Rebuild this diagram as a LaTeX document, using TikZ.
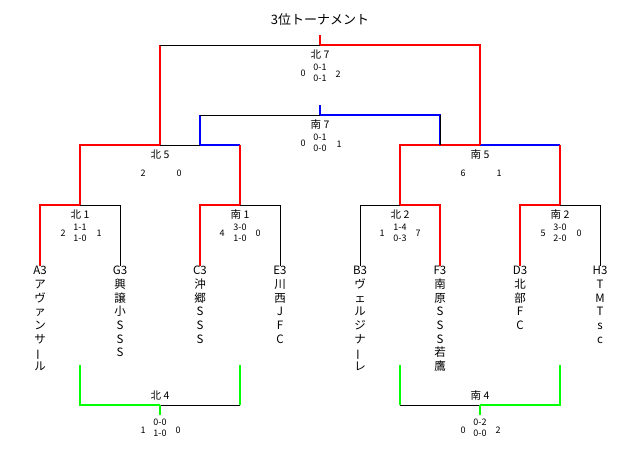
\documentclass[tikz,border=0pt]{standalone}
\usepackage{fontspec}
\setmainfont{Noto Sans CJK JP}
\usetikzlibrary{positioning}
\newcommand{\tatebar}{\rotatebox[origin=c]{90}{ー}}

\begin{document}
\begin{tikzpicture}[x=1pt,y=-1pt,
    win/.style={red,line width=1.5pt},
    lose/.style={black,line width=0.8pt},
    sub/.style={blue,line width=1.5pt},
    third/.style={green,line width=1.5pt},
    matchname/.style={inner sep=0pt,font=\fontsize{10.5}{12}\selectfont},
    goals/.style={inner sep=0pt,align=center,font=\fontsize{9}{11}\selectfont},
    team/.style={anchor=north,inner sep=0pt,align=center,font=\fontsize{11.5}{13.7}\selectfont}]
    \useasboundingbox[fill=white] (0,0) rectangle (640,450);

    % title
    \node[inner sep=0pt,font=\fontsize{13}{15}\selectfont] (title) at (320,20) {3位トーナメント};

    % teams
    \node[team] (A3) at (40,266) {A3\\ア\\ヴ\\ァ\\ン\\サ\\\tatebar\\ル};
    \node[team] (G3) at (120,266) {G3\\興\\譲\\小\\S\\S\\S};
    \node[team] (C3) at (200,266) {C3\\沖\\郷\\S\\S\\S};
    \node[team] (E3) at (280,266) {E3\\川\\西\\J\\F\\C};
    \node[team] (B3) at (360,266) {B3\\ヴ\\ェ\\ル\\ジ\\ナ\\\tatebar\\レ};
    \node[team] (F3) at (440,266) {F3\\南\\原\\S\\S\\S\\若\\鷹};
    \node[team] (D3) at (520,266) {D3\\北\\部\\F\\C};
    \node[team] (H3) at (600,266) {H3\\T\\M\\T\\s\\c};

    % bracket points
    \coordinate (kita1) at (80,205);
    \coordinate (minami1) at (240,205);
    \coordinate (kita2) at (400,205);
    \coordinate (minami2) at (560,205);
    \coordinate (kita5) at (160,145);
    \coordinate (kita5b) at (200,145);
    \coordinate (minami5) at (480,145);
    \coordinate (minami5r) at (560,145);
    \coordinate (kita7) at (320,45);
    \coordinate (kita7l) at (160,45);
    \coordinate (champ) at (320,35);
    \coordinate (minami7) at (320,115);
    \coordinate (minami7l) at (200,115);
    \coordinate (minami7r) at (440,145);
    \coordinate (minami7top) at (320,105);
    \coordinate (kita4) at (160,405);
    \coordinate (kita4l) at (80,365);
    \coordinate (kita4r) at (240,365);
    \coordinate (kita4c) at (240,405);
    \coordinate (kita4w) at (160,415);
    \coordinate (minami4) at (480,405);
    \coordinate (minami4l) at (400,365);
    \coordinate (minami4r) at (560,365);
    \coordinate (minami4c) at (400,405);
    \coordinate (minami4w) at (480,415);

    % first round
    \draw[win] (A3.north) |- (kita1);
    \draw[lose] (kita1) -| (G3.north);
    \draw[win] (C3.north) |- (minami1);
    \draw[lose] (minami1) -| (E3.north);
    \draw[lose] (B3.north) |- (kita2);
    \draw[win] (kita2) -| (F3.north);
    \draw[win] (D3.north) |- (minami2);
    \draw[lose] (minami2) -| (H3.north);

    % semi finals
    \draw[win] (kita1) |- (kita5);
    \draw[lose] (kita5) -- (kita5b);
    \draw[sub] (kita5b) -- (minami1 |- kita5);
    \draw[win] (minami1 |- kita5) -- (minami1);
    \draw[win] (kita2) |- (minami5);
    \draw[sub] (minami5) -- (minami5r);
    \draw[win] (minami5r) -- (minami2);

    % finals
    \draw[sub] (kita5b) -- (minami7l);
    \draw[lose] (minami7l) -- (minami7);
    \draw[sub] (minami7) -| (minami7r);
    \draw[lose] (minami7r |- minami7) -- (minami7r);
    \draw[sub] (minami7) -- (minami7top);
    \draw[win] (kita5) -- (kita7l);
    \draw[lose] (kita7l) -- (kita7);
    \draw[win] (kita7) -| (minami5);
    \draw[win] (kita7) -- (champ);

    % consolation
    \draw[third] (kita4l) |- (kita4);
    \draw[lose] (kita4) -- (kita4c);
    \draw[third] (kita4c) -- (kita4r);
    \draw[third] (kita4) -- (kita4w);
    \draw[third] (minami4l) -- (minami4c);
    \draw[lose] (minami4c) -- (minami4);
    \draw[third] (minami4) -| (minami4r);
    \draw[third] (minami4) -- (minami4w);

    % match names and scores
    \node[matchname] (k7n) at (320,55) {北 7};
    \node[goals] (k7s) at (320,72.5) {0-1\\0-1};
    \node[goals] (k7a) at (303,73) {0};
    \node[goals] (k7b) at (338,74) {2};

    \node[matchname] (m7n) at (320,125) {南 7};
    \node[goals] (m7s) at (320,142.5) {0-1\\0-0};
    \node[goals] (m7a) at (303,143) {0};
    \node[goals] (m7b) at (339,144) {1};

    \node[matchname] (k5n) at (160,155) {北 5};
    \node[goals] (k5a) at (143,173) {2};
    \node[goals] (k5b) at (179,173) {0};

    \node[matchname] (m5n) at (480,155) {南 5};
    \node[goals] (m5a) at (463,173) {6};
    \node[goals] (m5b) at (499,173) {1};

    \node[matchname] (k1n) at (80,215) {北 1};
    \node[goals] (k1s) at (80,233) {1-1\\1-0};
    \node[goals] (k1a) at (63,233) {2};
    \node[goals] (k1b) at (99,233) {1};

    \node[matchname] (m1n) at (240,215) {南 1};
    \node[goals] (m1s) at (240,233) {3-0\\1-0};
    \node[goals] (m1a) at (222,233) {4};
    \node[goals] (m1b) at (258,233) {0};

    \node[matchname] (k2n) at (400,215) {北 2};
    \node[goals] (k2s) at (400,233) {1-4\\0-3};
    \node[goals] (k2a) at (382,233) {1};
    \node[goals] (k2b) at (418,233) {7};

    \node[matchname] (m2n) at (560,215) {南 2};
    \node[goals] (m2s) at (560,233) {3-0\\2-0};
    \node[goals] (m2a) at (543,233) {5};
    \node[goals] (m2b) at (579,233) {0};

    \node[matchname] (k4n) at (160,396) {北 4};
    \node[goals] (k4s) at (160,427.5) {0-0\\1-0};
    \node[goals] (k4a) at (143,430) {1};
    \node[goals] (k4b) at (178,430) {0};

    \node[matchname] (m4n) at (480,396) {南 4};
    \node[goals] (m4s) at (480,427.5) {0-2\\0-0};
    \node[goals] (m4a) at (463,430) {0};
    \node[goals] (m4b) at (498,430) {2};
\end{tikzpicture}
\end{document}
